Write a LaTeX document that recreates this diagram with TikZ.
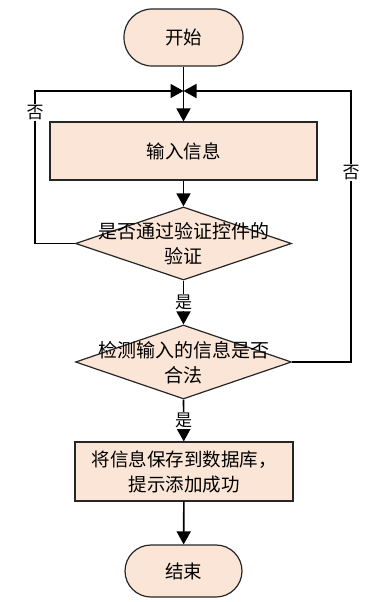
\documentclass[tikz,border=0pt]{standalone}
\usepackage{fontspec}
\usepackage{xcolor}
\usepackage{tikz}
\usetikzlibrary{shapes.geometric,arrows.meta}
\newfontfamily\cjk{Noto Sans CJK SC}
\definecolor{peach}{RGB}{251,229,214}

\tikzset{
  term/.style={draw=black!85, line width=1.2pt, fill=peach, rounded corners=28pt,
    minimum width=119pt, minimum height=57pt, font=\cjk\fontsize{18.5}{22}\selectfont},
  proc/.style={draw=black!85, line width=1.2pt, fill=peach,
    minimum height=58pt, align=center, font=\cjk\fontsize{18.5}{25}\selectfont},
  decision/.style={draw=black!85, line width=1.2pt, fill=peach, diamond, inner sep=0pt,
    minimum width=216pt, minimum height=73pt},
  dtext/.style={align=center, font=\cjk\fontsize{19}{25}\selectfont},
  arr/.style={line width=1.6pt, -{Triangle[length=13pt,width=14pt]}},
  lab/.style={fill=white, inner sep=1pt, font=\cjk\fontsize{17}{19}\selectfont}
}

\begin{document}
\begin{tikzpicture}[x=1pt,y=-1pt]
\useasboundingbox (0,0) rectangle (376,602);

\node[term] (start) at (183.5,37.5) {开始};
\node[proc, minimum width=267pt] (input) at (183.5,151) {输入信息};
\node[decision] (d1) at (183.5,243.5) {};
\node[dtext] (d1t) at (183.5,244) {是否通过验证控件的\\验证};
\node[decision, minimum height=74pt] (d2) at (183.5,362) {};
\node[dtext] (d2t) at (183.5,362.5) {检测输入的信息是否\\合法};
\node[proc, minimum width=218pt, minimum height=59pt] (save) at (184,471.5) {将信息保存到数据库，\\提示添加成功};
\node[term, minimum width=117pt, minimum height=52pt, rounded corners=26pt] (stop) at (183.5,571) {结束};

\coordinate (j) at (183.5,91);
\coordinate (lc) at (35,91);
\coordinate (rc) at (351,91);

\draw[arr] (start) -- (input);
\draw[arr] (input) -- (d1.north);
\draw[arr] (d1.south) -- node[lab] {是} (d2.north);
\draw[arr] (d2.south) -- node[lab] {是} (save);
\draw[arr] (save) -- (stop);

% loops back to the input
\draw[arr] (d1.west) -| node[lab, pos=0.93] {否} (lc) -- (j);
\draw[arr] (d2.east) -| node[lab, pos=0.85] {否} (rc) -- (j);
\end{tikzpicture}
\end{document}
